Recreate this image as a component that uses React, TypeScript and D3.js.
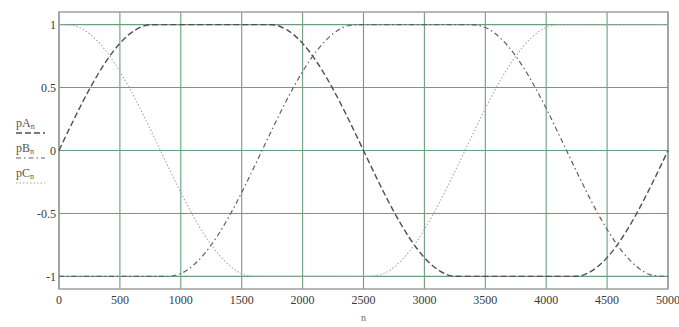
import React from "react";
import * as d3 from "d3";

const xs = [0,125,250,375,500,625,750,875,1000,1125,1250,1375,1500,1625,1750,1875,2000,2125,2250,2375,2500,2625,2750,2875,3000,3125,3250,3375,3500,3625,3750,3875,4000,4125,4250,4375,4500,4625,4750,4875,5000];
const pA = [0,0.252,0.487,0.691,0.851,0.956,0.999,1,1,1,1,1,1,1,0.999,0.956,0.851,0.691,0.487,0.252,0,-0.252,-0.487,-0.691,-0.851,-0.956,-0.999,-1,-1,-1,-1,-1,-1,-1,-0.999,-0.956,-0.851,-0.691,-0.487,-0.252,0];
const pB = [-1,-1,-1,-1,-1,-1,-1,-1,-0.977,-0.892,-0.75,-0.56,-0.333,-0.085,0.168,0.411,0.627,0.803,0.927,0.991,1,1,1,1,1,1,1,1,0.977,0.892,0.75,0.56,0.333,0.085,-0.168,-0.411,-0.627,-0.803,-0.927,-0.991,-1];
const pC = [1,0.991,0.927,0.803,0.627,0.411,0.168,-0.085,-0.333,-0.56,-0.75,-0.892,-0.977,-1,-1,-1,-1,-1,-1,-1,-1,-0.991,-0.927,-0.803,-0.627,-0.411,-0.168,0.085,0.333,0.56,0.75,0.892,0.977,1,1,1,1,1,1,1,1];
const xTicks = [0,500,1000,1500,2000,2500,3000,3500,4000,4500,5000];
const yTicks = [1,0.5,0,-0.5,-1];
const yTickLabels = ["1","0.5","0","-0.5","-1"];
const legendNames = ["pA", "pB", "pC"];

const W = 679, H = 327;
const L = 59, R = 668, T = 12, B = 289;

export default function App() {
  const x = d3.scaleLinear().domain([0, 5000]).range([L, R]);
  const y = d3.scaleLinear().domain([-1.1, 1.1]).range([B, T]);
  const line = (vals: number[]) =>
    d3.line<number>().x((_, i) => x(xs[i])).y((v) => y(v)).curve(d3.curveMonotoneX)(vals) || "";
  const series = [
    { vals: pA, color: "#505050", dash: "6,3", w: 1.4 },
    { vals: pB, color: "#606060", dash: "5,3,1.5,3", w: 1.2 },
    { vals: pC, color: "#a8a8a8", dash: "1.5,2", w: 1.1 },
  ];
  const font = "'Liberation Serif', 'DejaVu Serif', serif";
  const grid = "#6a9f7e";
  return (
    <svg width={W} height={H} style={{ position: "absolute", left: 0, top: 0, background: "#fff" }}>
      {xTicks.map((t) => (
        <line key={"gx" + t} x1={x(t)} x2={x(t)} y1={T} y2={B} stroke={grid} strokeWidth={1.1} />
      ))}
      {yTicks.map((t) => (
        <line key={"gy" + t} x1={L} x2={R} y1={y(t)} y2={y(t)} stroke={grid} strokeWidth={1.1} />
      ))}
      <rect x={L} y={T} width={R - L} height={B - T} fill="none" stroke="#999" strokeWidth={1.4} />
      {series.map((s, i) => (
        <path key={i} d={line(s.vals)} fill="none" stroke={s.color} strokeWidth={s.w} strokeDasharray={s.dash} />
      ))}
      {yTicks.map((t, i) => (
        <text key={"ty" + t} x={L - 3} y={y(t)} dy="0.35em" textAnchor="end" fontFamily={font} fontSize={12} fill="#3a3a3a">
          {yTickLabels[i]}
        </text>
      ))}
      {xTicks.map((t) => (
        <text key={"tx" + t} x={x(t)} y={304} textAnchor="middle" fontFamily={font} fontSize={12} fill="#3a3a3a">
          {t}
        </text>
      ))}
      <text x={(L + R) / 2} y={321} textAnchor="middle" fontFamily={font} fontSize={10} fill="#666">n</text>
      {legendNames.map((n, i) => {
        const by = 127 + i * 25;
        const s = series[i];
        return (
          <g key={n}>
            <text x={16} y={by} fontFamily={font} fontSize={12} fill="#555">
              {n}
              <tspan fontSize={8} dy={2}>n</tspan>
            </text>
            <line x1={16} x2={45} y1={by + 6} y2={by + 6} stroke={s.color} strokeWidth={s.w} strokeDasharray={s.dash} />
          </g>
        );
      })}
    </svg>
  );
}
